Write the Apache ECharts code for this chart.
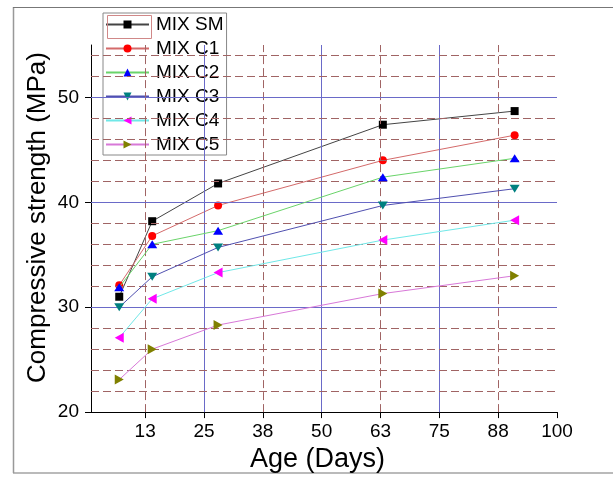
<!DOCTYPE html>
<html>
<head>
<meta charset="utf-8">
<script src="https://cdn.jsdelivr.net/npm/echarts@6/dist/echarts.min.js"></script>
<style>html,body{margin:0;padding:0;background:#fff;}#c{width:613px;height:478px;}</style>
</head>
<body>
<div id="c"></div>
<script>
var days = [7, 14, 28, 63, 91];
var seriesNames = ['MIX SM', 'MIX C1', 'MIX C2', 'MIX C3', 'MIX C4', 'MIX C5'];
var mixSM = [31.0, 38.2, 41.8, 47.4, 48.7];
var mixC1 = [32.1, 36.8, 39.7, 44.0, 46.4];
var mixC2 = [31.9, 36.0, 37.3, 42.4, 44.2];
var mixC3 = [30.0, 32.9, 35.7, 39.7, 41.3];
var mixC4 = [27.1, 30.8, 33.3, 36.4, 38.3];
var mixC5 = [23.1, 26.0, 28.3, 31.3, 33.0];
var xTicks = [12.5, 25, 37.5, 50, 62.5, 75, 87.5, 100];
var xTickLabels = ['13', '25', '38', '50', '63', '75', '88', '100'];
var yTicks = [20, 30, 40, 50];
var xMajorGrid = [25, 50, 75];
var xMinorGrid = [12.5, 37.5, 62.5, 87.5];
var yMajorGrid = [30, 40, 50];
var yMinorGrid = [22, 24, 26, 28, 32, 34, 36, 38, 42, 44, 46, 48, 52, 54];
var xTitle = 'Age (Days)';
var yTitle = 'Compressive strength (MPa)';

var FONT = "'Liberation Sans', Arial, sans-serif";
var values = [mixSM, mixC1, mixC2, mixC3, mixC4, mixC5];
var lineColors = ['#444444', '#d46a6a', '#6ad46a', '#5050b0', '#70e8e8', '#d878d8'];
var markColors = ['#000000', '#ff0000', '#0000ff', '#008080', '#ff00ff', '#808000'];
var symbols = ['rect', 'circle', 'triangle',
  'path://M0,0 L10,0 L5,10 Z',
  'path://M10,0 L10,10 L0,5 Z',
  'path://M0,0 L0,10 L10,5 Z'];
var sizes = [8, 8, [10, 8], [10, 8], [9, 10], [9, 10]];

var dashStyle = {color: '#a06464', width: 1, type: [8, 4]};
var solidStyle = {color: '#6a6ac8', width: 1, type: 'solid'};
var gridLines = [];
xMinorGrid.forEach(function (v) { gridLines.push({xAxis: v, lineStyle: dashStyle}); });
xMajorGrid.forEach(function (v) { gridLines.push({xAxis: v, lineStyle: solidStyle}); });
yMinorGrid.forEach(function (v) { gridLines.push({yAxis: v, lineStyle: dashStyle}); });
yMajorGrid.forEach(function (v) { gridLines.push({yAxis: v, lineStyle: solidStyle}); });

var series = [{
  name: 'grid', type: 'line', data: [], z: 1, silent: true,
  markLine: {silent: true, symbol: ['none', 'none'], label: {show: false}, animation: false, data: gridLines}
}];
seriesNames.forEach(function (n, i) {
  series.push({
    name: n, type: 'line', z: 3 + i,
    data: days.map(function (d, k) { return [d, values[i][k]]; }),
    symbol: symbols[i], symbolSize: sizes[i], showSymbol: true,
    lineStyle: {color: lineColors[i], width: 1},
    itemStyle: {color: markColors[i], borderWidth: 0},
    emphasis: {disabled: true}
  });
});

var chart = echarts.init(document.getElementById('c'), null, {renderer: 'canvas'});
chart.setOption({
  animation: false,
  backgroundColor: '#ffffff',
  grid: {left: 91, top: 45, width: 466, height: 372, containLabel: false},
  xAxis: {
    type: 'value', min: 1, max: 100,
    name: xTitle, nameLocation: 'middle', nameGap: 33,
    nameTextStyle: {fontFamily: FONT, fontSize: 27, color: '#000', padding: [0, 13, 0, 0]},
    axisLine: {show: true, lineStyle: {color: '#000', width: 1}},
    axisTick: {show: true, length: 6, customValues: xTicks, lineStyle: {color: '#000'}},
    axisLabel: {
      customValues: xTicks, margin: 10, fontFamily: FONT, fontSize: 19, color: '#000',
      formatter: function (v) { var i = xTicks.indexOf(v); return i >= 0 ? xTickLabels[i] : ''; }
    },
    splitLine: {show: false}
  },
  yAxis: {
    type: 'value', min: 20, max: 55,
    axisLine: {show: true, lineStyle: {color: '#000', width: 1}},
    axisTick: {show: true, length: 6, customValues: yTicks, lineStyle: {color: '#000'}},
    axisLabel: {customValues: yTicks, margin: 12, fontFamily: FONT, fontSize: 19, color: '#000'},
    splitLine: {show: false}
  },
  legend: {
    data: seriesNames, orient: 'vertical', left: 103, top: 13,
    backgroundColor: '#fff', borderColor: '#888', borderWidth: 1,
    padding: [2, 3, 1, 2], itemWidth: 43, itemHeight: 10, itemGap: 5,
    selectedMode: false,
    textStyle: {fontFamily: FONT, fontSize: 19, lineHeight: 19, color: '#000', padding: [0, 0, 0, 2]}
  },
  graphic: [
    {type: 'text', x: 37.5, y: 217.5, rotation: Math.PI / 2, z: 100,
      style: {text: yTitle, font: '26px ' + FONT, fill: '#000',
        align: 'center', verticalAlign: 'middle', textAlign: 'center', textVerticalAlign: 'middle'}},
    {type: 'rect', left: 105, top: 13, z: 100, shape: {width: 44, height: 23}, style: {fill: 'none', stroke: '#d08888', lineWidth: 1}},
    {type: 'line', z: 100, shape: {x1: 13.5, y1: 7, x2: 13.5, y2: 473}, style: {stroke: '#999', lineWidth: 1.5}},
    {type: 'line', z: 100, shape: {x1: 13, y1: 7.5, x2: 613, y2: 7.5}, style: {stroke: '#777', lineWidth: 1.2}},
    {type: 'line', z: -1, shape: {x1: 13, y1: 473, x2: 613, y2: 473}, style: {stroke: '#777', lineWidth: 1.2}}
  ],
  series: series
});
</script>
</body>
</html>
